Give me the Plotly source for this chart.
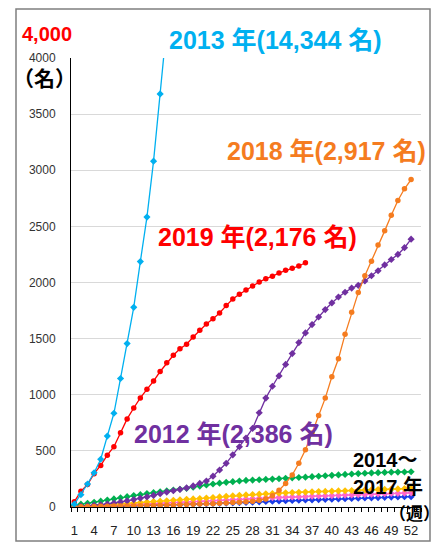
import plotly.graph_objects as go

# ---- data (weekly cumulative counts) ----
WEEKS = list(range(1, 53))
X_TICKS = list(range(1, 53, 3))

y2013 = [25, 110, 205, 305, 425, 632, 835, 1145, 1456, 1779, 2186, 2583, 3081, 3680, 4290]
y2019 = [47, 140, 200, 297, 370, 462, 537, 661, 785, 882,
         972, 1048, 1122, 1207, 1284, 1352, 1409, 1450, 1515, 1575,
         1631, 1676, 1729, 1794, 1853, 1895, 1933, 1969, 2004, 2034,
         2055, 2085, 2109, 2126, 2147, 2176]
y2012 = [3, 6, 10, 15, 20, 27, 35, 45, 55, 66,
         78, 90, 103, 118, 133, 145, 157, 170, 188, 210,
         232, 275, 330, 389, 465, 537, 615, 700, 840, 970,
         1076, 1168, 1270, 1367, 1465, 1551, 1625, 1693, 1759, 1818,
         1871, 1913, 1950, 1975, 2013, 2060, 2105, 2157, 2205, 2250,
         2310, 2386]
y2018 = [2, 3, 4, 5, 6, 7, 8, 9, 10, 11,
         12, 13, 14, 15, 16, 18, 20, 22, 24, 26,
         28, 30, 33, 36, 39, 42, 46, 52, 60, 72,
         100, 150, 210, 285, 390, 510, 660, 815, 970, 1160,
         1320, 1538, 1735, 1910, 2060, 2190, 2335, 2460, 2598, 2731,
         2835, 2917]
y_green = [15, 25, 33, 42, 52, 62, 72, 82, 92, 102,
           110, 120, 128, 136, 143, 151, 158, 166, 176, 186,
           196, 205, 212, 220, 226, 232, 237, 240, 243, 246,
           249, 252, 256, 260, 263, 266, 270, 274, 278, 282,
           286, 290, 294, 298, 301, 304, 306, 308, 310, 311,
           312, 314]
y_yellow = [2, 5, 8, 12, 16, 20, 24, 28, 32, 36,
            40, 44, 48, 52, 56, 60, 64, 68, 72, 76,
            80, 85, 90, 95, 100, 104, 108, 111, 114, 117,
            120, 123, 126, 129, 131, 133, 135, 137, 139, 141,
            143, 145, 147, 149, 151, 153, 155, 157, 159, 161,
            163, 165]
y_pink = [1, 3, 5, 8, 10, 13, 15, 18, 20, 23,
          25, 28, 30, 33, 36, 39, 42, 45, 48, 51,
          54, 57, 60, 63, 66, 69, 72, 75, 78, 81,
          84, 86, 88, 90, 92, 94, 96, 98, 100, 102,
          104, 106, 108, 110, 112, 114, 116, 118, 120, 122,
          124, 126]
y_blue = [0, 1, 2, 3, 4, 5, 6, 7, 8, 10,
          12, 13, 15, 16, 18, 19, 21, 23, 25, 27,
          29, 31, 33, 35, 37, 39, 41, 43, 46, 49,
          52, 54, 56, 58, 60, 62, 64, 66, 68, 70,
          72, 74, 76, 78, 80, 82, 84, 86, 88, 90,
          91, 92]

series = [
    ("2017", y_blue, "#1a3de6", "diamond"),
    ("2016", y_pink, "#ff66cc", "diamond"),
    ("2015", y_yellow, "#ffc000", "diamond"),
    ("2014", y_green, "#00b050", "diamond"),
    ("2012", y2012, "#7030a0", "diamond"),
    ("2018", y2018, "#f57c1f", "circle"),
    ("2019", y2019, "#ff0000", "circle"),
    ("2013", y2013, "#00b0f0", "diamond"),
]

fig = go.Figure()
for name, ys, col, sym in series:
    fig.add_trace(go.Scatter(
        x=WEEKS[:len(ys)], y=ys, name=name, mode="lines+markers",
        line=dict(color=col, width=1.3),
        marker=dict(color=col, size=5.5, symbol=sym),
        hoverinfo="skip",
    ))

L, R, T, B = 71, 20, 58, 36
W, H = 441, 543
PW, PH = W - L - R, H - T - B


def px(x):
    return (x - L) / PW


def py(y):
    return (H - B - y) / PH


bold = "Liberation Sans, Arial, Noto Sans CJK JP, sans-serif"
anns = [
    ("4,000", 47, 34, 20, "#ff0000"),
    ("（名）", 44, 78, 21, "#000000"),
    ("2013 年(14,344 名)", 275, 40, 25, "#00b0f0"),
    ("2018 年(2,917 名)", 326, 151, 25, "#f57c1f"),
    ("2019 年(2,176 名)", 257, 237, 25, "#ff0000"),
    ("2012 年(2,386 名)", 233, 434, 25, "#7030a0"),
    ("2014～", 385, 460, 20, "#000000"),
    ("2017 年", 388, 487, 20, "#000000"),
    ("（週）", 414, 514, 17, "#000000"),
]
for txt, x, y, s, c in anns:
    fig.add_annotation(
        text="<b>" + txt + "</b>", x=px(x), y=py(y), xref="paper", yref="paper",
        xanchor="center", yanchor="middle", showarrow=False,
        font=dict(size=s, color=c, family=bold),
    )

fig.add_shape(type="rect", xref="paper", yref="paper",
              x0=px(16), x1=px(430), y0=py(541), y1=py(9),
              line=dict(color="#7f7f7f", width=1.5), layer="below")

fig.update_layout(
    width=W, height=H, margin=dict(l=L, r=R, t=T, b=B),
    paper_bgcolor="white", plot_bgcolor="white",
    showlegend=False,
    xaxis=dict(range=[0.5, 53.5], tickvals=X_TICKS, ticktext=[str(t) for t in X_TICKS],
               ticks="", showline=True, linecolor="black", linewidth=1,
               showgrid=False, zeroline=False, automargin=False,
               minor=dict(ticks="outside", tick0=0.5, dtick=1, ticklen=4,
                          tickcolor="black", showgrid=False),
               tickfont=dict(size=13, color="#222", family="Liberation Sans, Arial"),
               ticklabelstandoff=11),
    yaxis=dict(range=[0, 4000], dtick=500, tickformat="d", automargin=False,
               showline=True, linecolor="black", linewidth=1,
               gridcolor="#d9d9d9", gridwidth=1, zeroline=False, ticks="",
               tickfont=dict(size=12, color="#333", family="Liberation Sans, Arial"),
               ticklabelstandoff=12),
)

fig.write_html("out.html", config={"displayModeBar": False},
               post_script="document.body.style.margin='0';document.body.style.overflow='hidden';")
